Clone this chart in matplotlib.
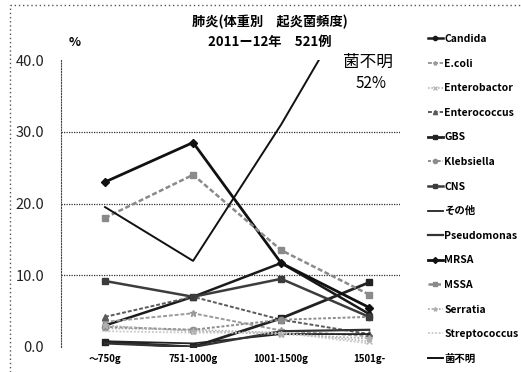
import matplotlib
matplotlib.use("Agg")
import matplotlib.pyplot as plt
from matplotlib.lines import Line2D

plt.rcParams['font.family'] = ['Noto Sans CJK JP', 'DejaVu Sans']

categories = ["～750g", "751-1000g", "1001-1500g", "1501g-"]

candida = [3.0, 7.0, 11.7, 4.6]
ecoli = [3.5, 4.7, 2.3, 1.5]
enterobactor = [2.6, 2.4, 2.0, 0.8]
enterococcus = [4.2, 7.0, 3.8, 1.8]
gbs = [0.7, 0.0, 4.0, 9.0]
klebsiella = [2.8, 2.4, 3.8, 4.2]
cns = [9.2, 7.0, 9.5, 4.2]
sonota = [0.8, 0.5, 1.8, 1.8]
pseudomonas = [0.5, 0.0, 2.2, 2.4]
mrsa = [23.0, 28.5, 11.7, 5.5]
mssa = [18.0, 24.0, 13.5, 7.3]
serratia = [3.0, 2.2, 1.8, 1.2]
streptococcus = [2.2, 2.0, 2.0, 0.5]
unknown = [19.5, 12.0, 31.0, 52.0]

yticks = [0, 10, 20, 30, 40]

# name, values, colour, marker, linestyle, linewidth, markersize
series = [
    ("Candida", candida, "#1a1a1a", "o", "-", 1.8, 3.5),
    ("E.coli", ecoli, "#9a9a9a", "*", (0, (2, 1)), 1.4, 5),
    ("Enterobactor", enterobactor, "#b8b8b8", "x", (0, (1, 1)), 1.2, 4),
    ("Enterococcus", enterococcus, "#5a5a5a", "^", (0, (2, 1)), 1.4, 4),
    ("GBS", gbs, "#222222", "s", "-", 2.0, 5),
    ("Klebsiella", klebsiella, "#8c8c8c", "o", (0, (1.5, 1)), 1.4, 4.5),
    ("CNS", cns, "#3c3c3c", "s", "-", 1.8, 5),
    ("その他", sonota, "#222222", "", "-", 1.3, 0),
    ("Pseudomonas", pseudomonas, "#333333", "", "-", 1.6, 0),
    ("MRSA", mrsa, "#111111", "D", "-", 2.0, 4),
    ("MSSA", mssa, "#8a8a8a", "s", (0, (2, 1)), 1.8, 5),
    ("Serratia", serratia, "#b0b0b0", "*", (0, (1, 1)), 1.3, 4.5),
    ("Streptococcus", streptococcus, "#c8c8c8", "", (0, (1, 1)), 1.3, 0),
    ("菌不明", unknown, "#111111", "", "-", 1.4, 0),
]

fig = plt.figure(figsize=(5.21, 3.72), dpi=100)
ax = fig.add_axes([61 / 521, 25 / 372, 339 / 521, 287 / 372])

x = list(range(len(categories)))
handles = []
for name, vals, col, mk, ls, lw, ms in series:
    h, = ax.plot(x, vals, color=col, marker=mk if mk else None, linestyle=ls,
                 linewidth=lw, markersize=ms, markeredgecolor=col,
                 markerfacecolor=col, label=name)
    handles.append(h)

ax.set_xlim(-0.5, 3.35)
ax.set_ylim(0, 40)
ax.set_yticks(yticks)
ax.set_yticklabels([f"{v:.1f}" for v in yticks], fontsize=10.5, color="#222222")
ax.set_xticks(x)
ax.set_xticklabels(categories, fontsize=7, fontweight="bold")
ax.tick_params(axis="both", length=0)
ax.tick_params(axis="y", pad=12)
ax.tick_params(axis="x", pad=5)

for s in ["top", "right", "bottom"]:
    ax.spines[s].set_visible(False)
ax.spines["left"].set_linestyle((0, (1, 1.5)))
ax.spines["left"].set_linewidth(0.8)
ax.spines["left"].set_color("#444444")

for v in [10, 20, 30]:
    ax.axhline(v, color="#333333", linestyle=(0, (1, 1)), linewidth=0.9, zorder=0)

fig.text(270 / 521, 1 - 22 / 372, "肺炎(体重別　起炎菌頻度)", ha="center", va="center",
         fontsize=9.5, fontweight="bold")
fig.text(270 / 521, 1 - 42 / 372, "2011ー12年　521例", ha="center", va="center",
         fontsize=9.5, fontweight="bold")
fig.text(75 / 521, 1 - 43 / 372, "%", ha="center", va="center", fontsize=9,
         fontweight="bold")
fig.text(368 / 521, 1 - 62 / 372, "菌不明", ha="center", va="center", fontsize=12)
fig.text(371 / 521, 1 - 84 / 372, "52%", ha="center", va="center", fontsize=11)

leg = fig.legend(handles=handles, loc="upper left",
                 bbox_to_anchor=(428 / 521, 1 - 34 / 372), frameon=False,
                 fontsize=7.5, handlelength=1.4, handletextpad=0.15,
                 labelspacing=1.40, borderaxespad=0, borderpad=0)
for t in leg.get_texts():
    t.set_fontweight("bold")
for lh in leg.legend_handles:
    lh.set_markersize(3)

# dotted frame edges along the top and left of the chart
frame_kw = dict(transform=fig.transFigure, color="#555555",
                linestyle=(0, (1, 2)), linewidth=1.0)
fig.add_artist(Line2D([10 / 521, 1.0], [1 - 5 / 372, 1 - 5 / 372], **frame_kw))
fig.add_artist(Line2D([10 / 521, 10 / 521], [0.0, 1 - 5 / 372], **frame_kw))

fig.savefig("out.png", dpi=100)
